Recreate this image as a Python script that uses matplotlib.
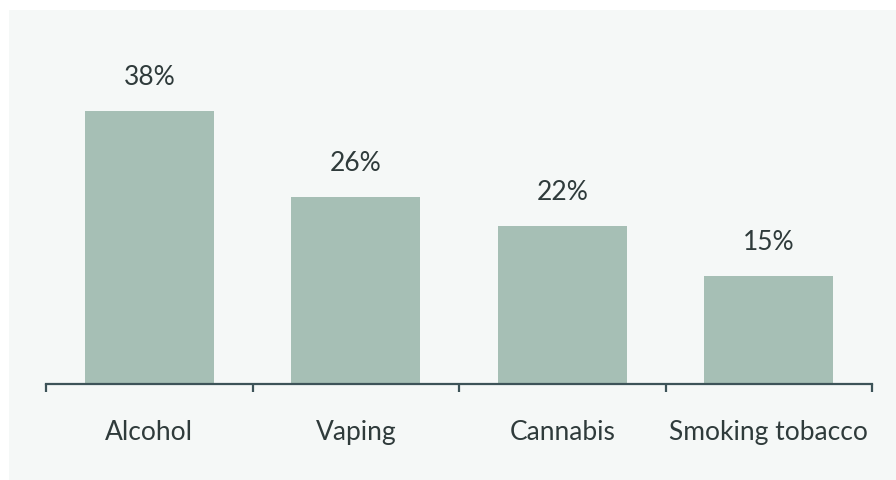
import matplotlib
matplotlib.use("Agg")
import matplotlib.pyplot as plt
from matplotlib.patches import Rectangle

categories = ["Alcohol", "Vaping", "Cannabis", "Smoking tobacco"]
values = [38, 26, 22, 15]
labels = ["38%", "26%", "22%", "15%"]

W, H = 896, 480
fig = plt.figure(figsize=(W/100, H/100), dpi=100)
fig.patch.set_facecolor("white")
fig.patches.append(Rectangle((9/W, 0), 1 - 9/W, 1 - 10/H, transform=fig.transFigure,
                             facecolor="#f5f8f7", edgecolor="none", zorder=-10))

ax = fig.add_axes([46/W, (H-383.5)/H, (872-46)/W, (383.5-40)/H])
ax.set_zorder(1)
ax.set_facecolor("none")
x = list(range(len(categories)))
ax.bar(x, values, width=0.625, color="#a6bfb5", zorder=2)
ax.set_xlim(-0.5, len(categories) - 0.5)
ax.set_ylim(0, (383.5-40)/7.16)

for xi, v, lab in zip(x, values, labels):
    ax.annotate(lab, (xi, v), xytext=(0, 19), textcoords="offset points",
                ha="center", va="baseline", fontsize=19, family="Lato", color="#2f3b3b")

for s in ["top", "right", "left"]:
    ax.spines[s].set_visible(False)
ax.spines["bottom"].set_color("#3d5358")
ax.spines["bottom"].set_linewidth(1.6)
ax.set_yticks([])
ax.set_xticks(x)
ax.set_xticklabels(categories, family="Lato", fontsize=19, color="#2f3b3b")
ax.tick_params(axis="x", which="major", length=0, pad=26)
ax.set_xticks([i - 0.5 for i in range(len(categories) + 1)], minor=True)
ax.tick_params(axis="x", which="minor", length=6, width=1.6, color="#3d5358", direction="out")

fig.savefig("out.png", dpi=100)
